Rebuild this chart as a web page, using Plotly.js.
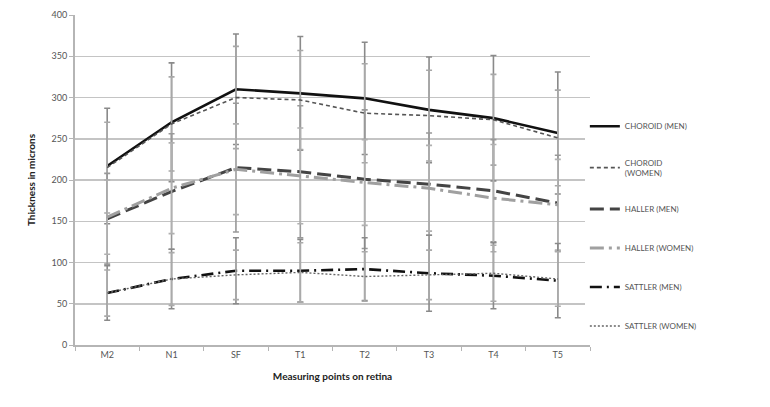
<!DOCTYPE html>
<html>
<head>
<meta charset="utf-8">
<script src="https://cdn.plot.ly/plotly-3.0.1.min.js"></script>
<style>html,body{margin:0;padding:0;background:#fff;}#chart{width:770px;height:407px;}</style>
</head>
<body>
<div id="chart"></div>
<script>
var categories = ["M2", "N1", "SF", "T1", "T2", "T3", "T4", "T5"];

var choroidMen = [217, 270, 310, 305, 299, 285, 275, 257];
var choroidMenSD = [70, 72, 67, 69, 68, 64, 76, 74];
var choroidWomen = [215, 268, 300, 297, 281, 278, 273, 251];
var choroidWomenSD = [55, 57, 62, 60, 60, 55, 55, 58];
var hallerMen = [153, 186, 215, 210, 201, 195, 187, 172];
var hallerMenSD = [55, 70, 78, 80, 84, 62, 62, 58];
var hallerWomen = [155, 190, 213, 205, 197, 190, 178, 170];
var hallerWomenSD = [45, 55, 55, 58, 52, 52, 65, 55];
var sattlerMen = [63, 80, 90, 90, 92, 87, 84, 78];
var sattlerMenSD = [33, 36, 40, 38, 38, 46, 40, 45];
var sattlerWomen = [63, 80, 85, 88, 83, 85, 87, 80];
var sattlerWomenSD = [28, 32, 30, 36, 30, 30, 34, 33];

var names = ["CHOROID (MEN)", "CHOROID<br>(WOMEN)", "HALLER (MEN)", "HALLER (WOMEN)", "SATTLER (MEN)", "SATTLER (WOMEN)"];

function tr(i, y, sd, color, width, dash, ebColor) {
  return {
    type: "scatter", mode: "lines", x: categories, y: y, name: names[i],
    legendgroup: "g" + i,
    line: {color: color, width: width, dash: dash},
    error_y: {type: "data", array: sd, visible: true, color: ebColor, thickness: 1.6, width: 3}
  };
}

var data = [
  tr(0, choroidMen, choroidMenSD, "#111111", 2.6, "solid", "#8a8a8a"),
  tr(1, choroidWomen, choroidWomenSD, "#555555", 1.6, "4px,3px", "#a8a8a8"),
  tr(2, hallerMen, hallerMenSD, "#444444", 3, "14px,6px", "#999999"),
  tr(3, hallerWomen, hallerWomenSD, "#a0a0a0", 3, "14px,5px,3px,5px", "#b0b0b0"),
  tr(4, sattlerMen, sattlerMenSD, "#111111", 2.6, "12px,5px,2px,5px", "#8a8a8a"),
  tr(5, sattlerWomen, sattlerWomenSD, "#666666", 1.4, "2px,2px", "#aaaaaa")
];

var layout = {
  width: 770, height: 407,
  margin: {l: 75, r: 180, t: 15, b: 62},
  paper_bgcolor: "#ffffff", plot_bgcolor: "#ffffff",
  font: {family: "Lato, 'Liberation Sans', sans-serif", size: 9, color: "#555555"},
  showlegend: true,
  legend: {
    x: 0.99, xanchor: "left", y: 0.36, yanchor: "middle",
    font: {size: 8, color: "#555555"},
    tracegroupgap: 20, traceorder: "grouped", itemwidth: 30
  },
  xaxis: {
    type: "category", range: [-0.5, 7.5],
    showgrid: false, showline: true, linecolor: "#b5b5b5", linewidth: 2,
    ticks: "outside", tickson: "boundaries", ticklen: 4, tickcolor: "#b5b5b5",
    tickfont: {size: 9, color: "#555555"},
    title: {text: "<b>Measuring points on retina</b>", font: {size: 10, color: "#222222"}, standoff: 14}
  },
  yaxis: {
    range: [0, 400], dtick: 50, showgrid: true, gridcolor: "#c4c4c4", gridwidth: 1.5,
    showline: true, linecolor: "#b5b5b5", linewidth: 2, zeroline: false,
    ticks: "outside", ticklen: 4, tickcolor: "#b5b5b5",
    tickfont: {size: 9, color: "#555555"},
    title: {text: "<b>Thickness in microns</b>", font: {size: 10, color: "#222222"}, standoff: 14}
  }
};

Plotly.newPlot("chart", data, layout, {displayModeBar: false, staticPlot: true});
</script>
</body>
</html>
